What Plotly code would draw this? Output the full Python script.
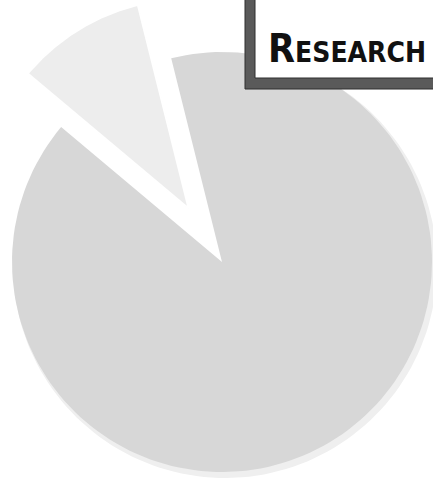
import numpy as np
import plotly.graph_objects as go

# ---- data ----
labels = ["Main share", "Pulled-out share"]
values = [90, 10]
colors = ["#d7d7d7", "#ededed"]
pulls = [0.0, 0.3]
title_big = "R"
title_rest = "ESEARCH"

# ---- geometry / style constants ----
W, H = 433, 486
CX, CY, R = 222, 262, 210
START = 14.0  # degrees counter-clockwise from 12 o'clock where the pulled slice begins
FONT = "Liberation Sans Narrow, Arial Narrow, DejaVu Sans Condensed, Roboto Condensed, Liberation Sans, sans-serif"


def wedge(a0, a1, r, cx, cy, n=160):
    ang = np.radians(np.linspace(a0, a1, n))
    xs = np.concatenate([[cx], cx - r * np.sin(ang), [cx]])
    ys = np.concatenate([[cy], cy - r * np.cos(ang), [cy]])
    return xs, ys


total = float(sum(values))
spans = [v / total * 360.0 for v in values]
a_small0 = START
a_small1 = START + spans[1]
a_main0 = a_small1
a_main1 = a_main0 + spans[0]

fig = go.Figure()

# soft shadow of main slice
sx, sy = wedge(a_main0, a_main1, R + 2, CX + 3, CY + 4)
fig.add_trace(go.Scatter(x=sx, y=sy, fill="toself", fillcolor="#efefef",
                         line=dict(width=0), mode="lines", hoverinfo="skip", showlegend=False))

# main slice
mx, my = wedge(a_main0, a_main1, R, CX, CY)
fig.add_trace(go.Scatter(x=mx, y=my, fill="toself", fillcolor=colors[0],
                         line=dict(width=0), mode="lines", name=labels[0], showlegend=False))

# pulled slice
mid = np.radians((a_small0 + a_small1) / 2)
off = pulls[1] * R
pcx = CX - off * np.sin(mid)
pcy = CY - off * np.cos(mid)
px, py = wedge(a_small0, a_small1, R, pcx, pcy)
fig.add_trace(go.Scatter(x=px, y=py, fill="toself", fillcolor=colors[1],
                         line=dict(width=2, color="#ffffff"), mode="lines",
                         name=labels[1], showlegend=False))

# framed box top-right
fig.add_shape(type="rect", xref="x", yref="y", x0=245, x1=445, y0=-20, y1=89,
              fillcolor="#5a5a5a", line=dict(color="#2e2e2e", width=1), layer="above")
fig.add_shape(type="rect", xref="x", yref="y", x0=255, x1=445, y0=-20, y1=78,
              fillcolor="#ffffff", line=dict(color="#2e2e2e", width=1), layer="above")

fig.add_annotation(x=428, y=48, xref="x", yref="y", xanchor="right", yanchor="middle",
                   text=f"<b><span style='font-size:39px'>{title_big}</span>{title_rest}</b>",
                   showarrow=False,
                   font=dict(family=FONT, size=28, color="#111111"))

fig.update_layout(
    width=W, height=H,
    margin=dict(l=0, r=0, t=0, b=0),
    paper_bgcolor="#ffffff", plot_bgcolor="#ffffff",
    xaxis=dict(range=[0, W], visible=False, fixedrange=True),
    yaxis=dict(range=[H, 0], visible=False, fixedrange=True),
    showlegend=False,
)

fig.write_html("out.html")
